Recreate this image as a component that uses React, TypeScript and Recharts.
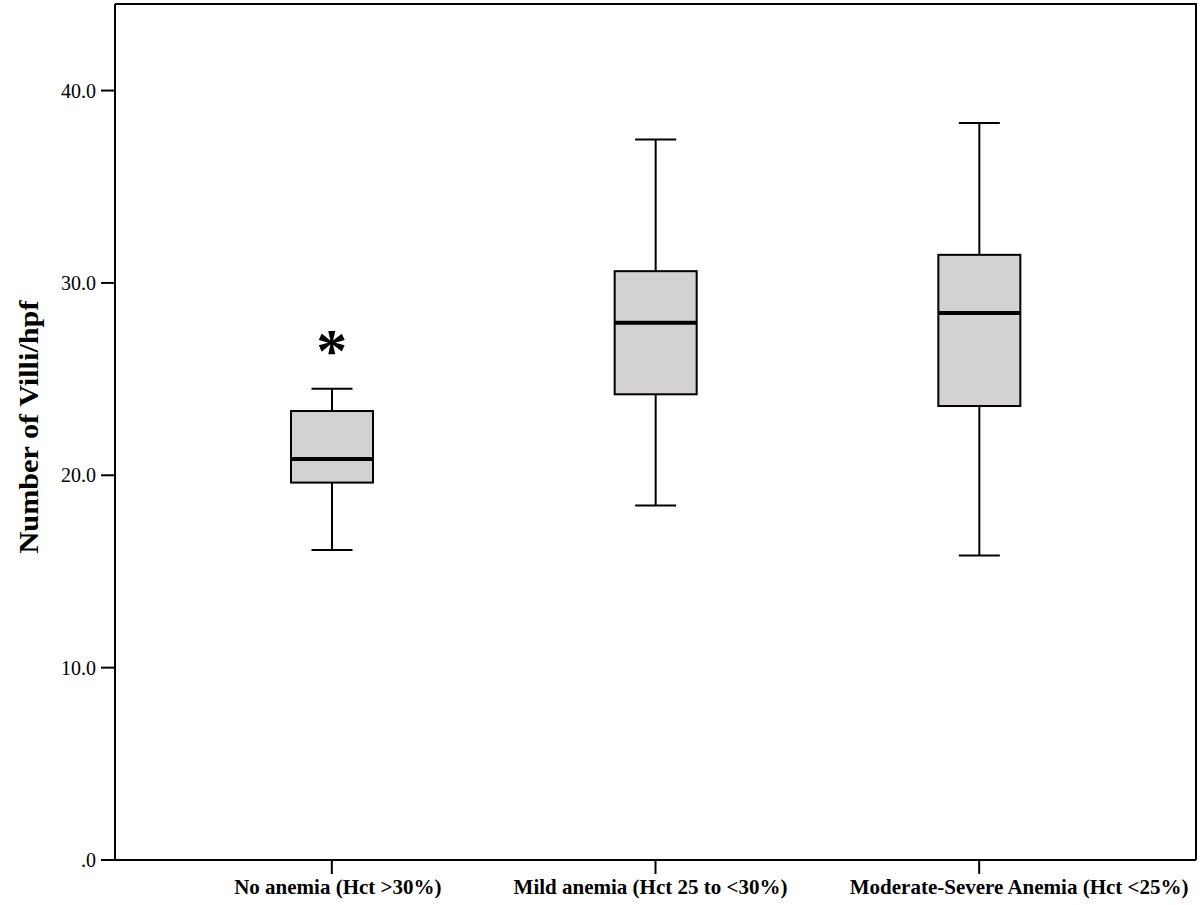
import { ComposedChart, Bar, Scatter, XAxis, YAxis, ReferenceArea } from 'recharts'

const CATEGORIES = ['No anemia (Hct >30%)', 'Mild anemia (Hct 25 to <30%)', 'Moderate-Severe Anemia (Hct <25%)']
const MINS = [16.12, 18.43, 15.83]
const Q1S = [19.62, 24.21, 23.6]
const MEDIANS = [20.85, 27.93, 28.43]
const Q3S = [23.34, 30.61, 31.46]
const MAXS = [24.5, 37.45, 38.32]
const OUTLIERS: (number | null)[] = [26.93, null, null]
const Y_TICKS = [0, 10, 20, 30, 40]
const Y_MAX = 44.5

const FONT = '"Liberation Serif", "Times New Roman", serif'
const X_PAD = 55
// the source places its category labels slightly off-centre
const LABEL_SHIFT = [6, -5, 40]

const data = CATEGORIES.map((name, i) => ({
  name,
  range: [MINS[i], MAXS[i]],
  min: MINS[i],
  q1: Q1S[i],
  median: MEDIANS[i],
  q3: Q3S[i],
  max: MAXS[i],
  outlier: OUTLIERS[i],
}))

function BoxShape(props: any) {
  const { x, y, width, height, payload } = props
  if (height == null || !payload) return null
  const { min, q1, median, q3, max } = payload
  const unit = height / (max - min)
  const py = (v: number) => y + (max - v) * unit
  const cx = x + width / 2
  const capHalf = width / 4
  return (
    <g>
      <line x1={cx} x2={cx} y1={py(max)} y2={py(q3)} stroke="#000" strokeWidth={2} />
      <line x1={cx} x2={cx} y1={py(q1)} y2={py(min)} stroke="#000" strokeWidth={2} />
      <line x1={cx - capHalf} x2={cx + capHalf} y1={py(max)} y2={py(max)} stroke="#000" strokeWidth={2} />
      <line x1={cx - capHalf} x2={cx + capHalf} y1={py(min)} y2={py(min)} stroke="#000" strokeWidth={2} />
      <rect x={x} y={py(q3)} width={width} height={py(q1) - py(q3)} fill="#d3d1d2" stroke="#000" strokeWidth={2} />
      <line x1={x} x2={x + width} y1={py(median)} y2={py(median)} stroke="#000" strokeWidth={4} />
    </g>
  )
}

function StarShape(props: any) {
  const { cx, cy } = props
  if (cx == null || cy == null || isNaN(cy)) return null
  return (
    <text x={cx} y={cy + 29} textAnchor="middle" fontFamily={FONT} fontWeight="bold" fontSize={62} fill="#000">
      *
    </text>
  )
}

// top and right edges of the plot frame (the area spans the unpadded x range)
function FrameShape(props: any) {
  const { x, y, width, height } = props
  const left = x - X_PAD
  const right = x + width + X_PAD
  return (
    <path d={`M${left},${y}H${right}V${y + height}`} fill="none" stroke="#000" strokeWidth={2} />
  )
}

function CategoryTick(props: any) {
  const { x, y, payload, index } = props
  return (
    <text
      x={x + (LABEL_SHIFT[index] ?? 0)}
      y={y}
      dy="0.71em"
      textAnchor="middle"
      fontFamily={FONT}
      fontWeight="bold"
      fontSize={21}
      fill="#000"
    >
      {payload.value}
    </text>
  )
}

function YLabel(props: any) {
  const vb = props.viewBox
  const x = 29
  const y = vb.y + vb.height / 2 - 5
  return (
    <text
      x={x}
      y={y}
      transform={`rotate(-90 ${x} ${y})`}
      textAnchor="middle"
      dominantBaseline="central"
      fontFamily={FONT}
      fontWeight="bold"
      fontSize={27}
      textLength={253}
      lengthAdjust="spacingAndGlyphs"
      fill="#000"
    >
      Number of Villi/hpf
    </text>
  )
}

export default function App() {
  return (
    <div style={{ position: 'absolute', left: 0, top: 0, background: '#fff' }}>
      <ComposedChart width={1200} height={905} data={data} margin={{ top: 4, right: 4, bottom: 0, left: 0 }}>
        <XAxis
          dataKey="name"
          height={45}
          padding={{ left: X_PAD, right: X_PAD }}
          axisLine={{ stroke: '#000', strokeWidth: 2 }}
          tickLine={{ stroke: '#000', strokeWidth: 2 }}
          tickSize={14}
          tickMargin={5}
          tick={<CategoryTick />}
        />
        <YAxis
          type="number"
          domain={[0, Y_MAX]}
          ticks={Y_TICKS}
          width={115}
          allowDataOverflow
          axisLine={{ stroke: '#000', strokeWidth: 2 }}
          tickLine={{ stroke: '#000', strokeWidth: 2 }}
          tickSize={14}
          tickMargin={5}
          tickFormatter={(v: number) => (v === 0 ? '.0' : v.toFixed(1))}
          tick={{ fill: '#000', fontFamily: FONT, fontSize: 20 }}
          label={<YLabel />}
        />
        <ReferenceArea y1={0} y2={Y_MAX} ifOverflow="visible" shape={<FrameShape />} />
        <Bar dataKey="range" barSize={82} shape={<BoxShape />} isAnimationActive={false} />
        <Scatter dataKey="outlier" shape={<StarShape />} isAnimationActive={false} />
      </ComposedChart>
    </div>
  )
}
